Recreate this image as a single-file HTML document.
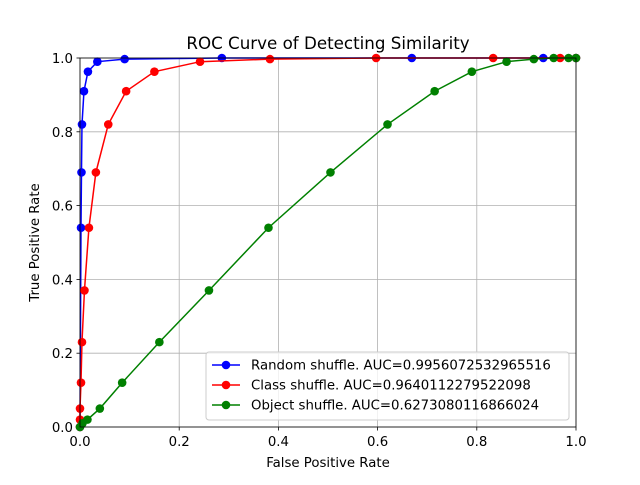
<!DOCTYPE html>
<html><head><meta charset="utf-8"><style>body{margin:0;background:#fff}svg{font-family:"DejaVu Sans","Liberation Sans",sans-serif}</style></head>
<body>
<svg id="c" width="640" height="480"></svg>
<script>
const xTicks=[0,0.2,0.4,0.6,0.8,1.0];
const yTicks=[0,0.2,0.4,0.6,0.8,1.0];
const blueX=[0,0.002,0.003,0.004,0.008,0.016,0.035,0.09,0.286,0.669,0.934,1];
const blueY=[0,0.54,0.69,0.82,0.91,0.963,0.99,0.997,1,1,1,1];
const redX=[0,0,0,0.002,0.004,0.009,0.018,0.032,0.057,0.093,0.15,0.242,0.383,0.597,0.833,0.968,1];
const redY=[0,0.02,0.05,0.12,0.23,0.37,0.54,0.69,0.82,0.91,0.963,0.99,0.997,1,1,1,1];
const greenX=[0,0.005,0.015,0.04,0.085,0.16,0.26,0.38,0.505,0.62,0.715,0.79,0.86,0.915,0.955,0.985,1];
const greenY=[0,0.01,0.02,0.05,0.12,0.23,0.37,0.54,0.69,0.82,0.91,0.963,0.99,0.997,1,1,1];
const seriesNames=["Random shuffle. AUC=0.9956072532965516","Class shuffle. AUC=0.9640112279522098","Object shuffle. AUC=0.6273080116866024"];
const NS="http://www.w3.org/2000/svg",svg=document.getElementById('c');
const L=80,R=576,T=58,B=427;
const sx=v=>L+v*(R-L), sy=v=>B-v*(B-T);
function mk(t,a,p){const e=document.createElementNS(NS,t);for(const k in a)e.setAttribute(k,a[k]);(p||svg).appendChild(e);return e;}
xTicks.forEach(v=>{const g=mk('line',{x1:sx(v),x2:sx(v),y1:T,y2:B,stroke:'#b0b0b0','stroke-width':0.8});

mk('line',{x1:sx(v),x2:sx(v),y1:B,y2:B+3.5,stroke:'#000','stroke-width':0.8});
const t=mk('text',{x:sx(v),y:B+19,'text-anchor':'middle','font-size':13.3});t.textContent=v.toFixed(1);
});
yTicks.forEach(v=>{const g=mk('line',{x1:L,x2:R,y1:sy(v),y2:sy(v),stroke:'#b0b0b0','stroke-width':0.8});

mk('line',{x1:L-3.5,x2:L,y1:sy(v),y2:sy(v),stroke:'#000','stroke-width':0.8});
const t=mk('text',{x:L-7,y:sy(v)+5,'text-anchor':'end','font-size':13.3});t.textContent=v.toFixed(1);
});
const cl=mk('clipPath',{id:'cp'});mk('rect',{x:L-8,y:T-8,width:R-L+16,height:B-T+16},cl);
function series(xs,ys,col,name){const g=mk('g',{'clip-path':'url(#cp)'});

mk('polyline',{points:xs.map((x,i)=>sx(x)+','+sy(ys[i])).join(' '),fill:'none',stroke:col,'stroke-width':1.5},g);
xs.forEach((x,i)=>{const c=mk('circle',{cx:sx(x),cy:sy(ys[i]),r:4.3,fill:col},g);
});}
series(blueX,blueY,'#0000ff','random-shuffle-series');
series(redX,redY,'#ff0000','class-shuffle-series');
series(greenX,greenY,'#008000','object-shuffle-series');
const fr=mk('rect',{x:L,y:T,width:R-L,height:B-T,fill:'none',stroke:'#000','stroke-width':0.8});

const ti=mk('text',{x:(L+R)/2,y:49,'text-anchor':'middle','font-size':16.7});ti.textContent='ROC Curve of Detecting Similarity';

const xl=mk('text',{x:(L+R)/2,y:467,'text-anchor':'middle','font-size':13.3});xl.textContent='False Positive Rate';

const yl=mk('text',{x:0,y:0,'text-anchor':'middle','font-size':13.3,transform:'translate(39,'+((T+B)/2)+') rotate(-90)'});yl.textContent='True Positive Rate';

const lg=mk('g',{});
mk('rect',{x:206,y:352,width:363,height:68,rx:3,fill:'#fff','fill-opacity':0.8,stroke:'#ccc'},lg);
const cols=['#0000ff','#ff0000','#008000'];
seriesNames.forEach((n,i)=>{const y=365+i*20;
mk('line',{x1:212,x2:240,y1:y,y2:y,stroke:cols[i],'stroke-width':1.5},lg);
mk('circle',{cx:226,cy:y,r:4.3,fill:cols[i]},lg);
const t=mk('text',{x:251,y:y+4.5,'font-size':13.3},lg);t.textContent=n;
});
</script>
</body></html>
